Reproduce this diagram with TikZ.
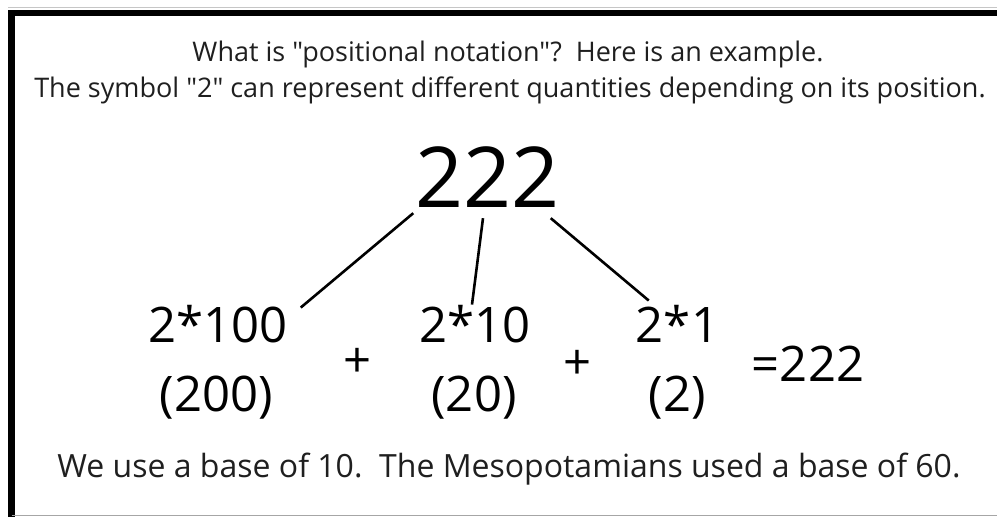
\documentclass[tikz,border=0pt]{standalone}
\usepackage{fontspec}
\setmainfont{Open Sans}[Ligatures=TeXOff]
\usetikzlibrary{positioning, calc}
\definecolor{inkgray}{HTML}{1F1F1F}

\begin{document}
\begin{tikzpicture}[x=1pt, y=1pt,
  caption/.style={anchor=base, inner sep=0pt, text=inkgray, font=\fontsize{27}{32}\selectfont},
  footer/.style={caption, font=\fontsize{32}{38}\selectfont},
  bignum/.style={anchor=base, inner sep=0pt, font=\fontsize{84}{96}\selectfont},
  term/.style={anchor=base, inner sep=0pt, font=\fontsize{49}{56}\selectfont},
  branch/.style={line width=2.6pt},
]
  \useasboundingbox (0,0) rectangle (997,517);
  % frame
  \draw[gray!45, line width=1pt] (8,509.5) -- (997,509.5);
  \draw[line width=6.5pt] (997,504) -- (11.5,504) -- (11.5,0);
  \draw[gray!70, line width=1.5pt] (11.5,1.5) -- (997,1.5);

  \node[caption] (question) at (508,455) {What is "positional notation"?\ \ Here is an example.};
  \node[caption] (symbol) at (510,419) {The symbol "2" can represent different quantities depending on its position.};

  \node[bignum] (number) at (487.5,309) {222};

  \node[term] (hundreds) at (218,174) {2*100};
  \node[term] (hundredsval) at (216.5,105) {(200)};
  \node[term] (tens) at (475,174) {2*10};
  \node[term] (tensval) at (474,105) {(20)};
  \node[term] (ones) at (677.5,174) {2*1};
  \node[term] (onesval) at (677.5,105) {(2)};
  \node[term, anchor=center] (plusa) at (358,154) {+};
  \node[term, anchor=center] (plusb) at (578,152) {+};
  \node[term] (total) at (808,135) {=222};

  \draw[branch] ([shift={(-2,-5)}]number.south west) -- ([shift={(13,-2)}]hundreds.north east);
  \draw[branch] ([shift={(-4.5,-10)}]number.south) -- ([shift={(-3,1)}]tens.north);
  \draw[branch] ([shift={(-9,-10)}]number.south east) -- ([shift={(13,5)}]ones.north west);

  \node[footer] (base) at (509,39) {We use a base of 10.\ \ The Mesopotamians used a base of 60.};
\end{tikzpicture}
\end{document}
